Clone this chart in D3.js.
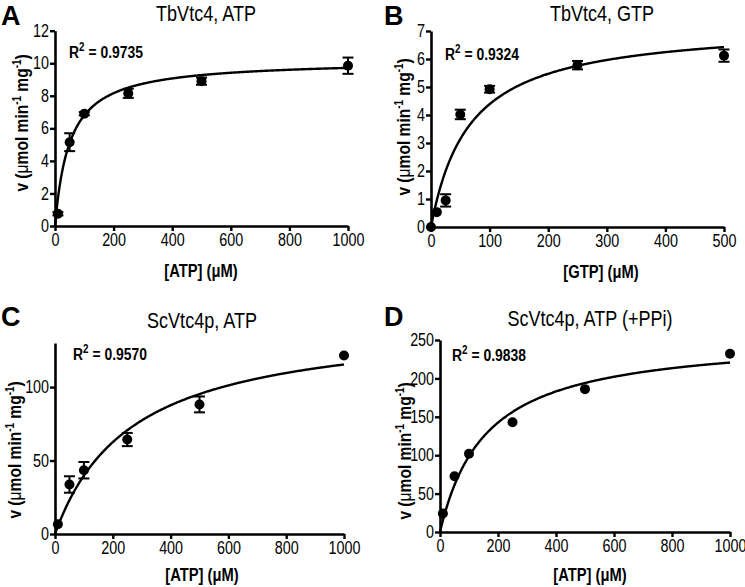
<!DOCTYPE html>
<html><head><meta charset="utf-8">
<script src="https://cdn.jsdelivr.net/npm/d3@7"></script>
<style>
body{margin:0;background:#fff}
text{font-family:"Liberation Sans Narrow","Arial Narrow","Liberation Sans",Arial,sans-serif;fill:#000}
</style></head>
<body><svg id="c" width="745" height="587"></svg>
<script>
// ---- data ----
const concA = [10, 50, 100, 250, 500, 1000];
const rateA = [0.75, 5.15, 6.9, 8.15, 8.9, 9.85];
const errA  = [0.1, 0.55, 0.1, 0.28, 0.22, 0.5];

const concB = [0, 10, 25, 50, 100, 250, 500];
const rateB = [0, 0.53, 0.95, 4.02, 4.92, 5.78, 6.12];
const errB  = [0, 0, 0.22, 0.17, 0.12, 0.15, 0.22];

const concC = [10, 50, 100, 250, 500, 1000];
const rateC = [6.6, 33.7, 43.4, 64.3, 88.2, 121.5];
const errC  = [0, 5.6, 5.6, 4.5, 5.4, 0];

const concD = [10, 50, 100, 250, 500, 1000];
const rateD = [24, 72.6, 102, 143, 186, 232];
const errD  = [0, 0, 0, 0, 0, 0];

// Michaelis-Menten fit parameters (Vmax, Km)
const fitVmax = [10.2, 7.27, 146.3, 255.7];
const fitKm   = [50, 65.7, 268, 159];

const letters  = ["A", "B", "C", "D"];
const titles   = ["TbVtc4, ATP", "TbVtc4, GTP", "ScVtc4p, ATP", "ScVtc4p, ATP (+PPi)"];
const r2Values = ["0.9735", "0.9324", "0.9570", "0.9838"];
const xLabels  = ["[ATP] (\u03BCM)", "[GTP] (\u03BCM)", "[ATP] (\u03BCM)", "[ATP] (\u03BCM)"];
const xTicksA = [0, 200, 400, 600, 800, 1000];
const xTicksB = [0, 100, 200, 300, 400, 500];
const yTicksA = [0, 2, 4, 6, 8, 10, 12];
const yTicksB = [0, 1, 2, 3, 4, 5, 6, 7];
const yTicksC = [0, 50, 100];
const yTicksD = [0, 50, 100, 150, 200, 250];
const xMax = [1000, 500, 1000, 1000];
const yMax = [12, 7, 130, 250];

// ---- layout ----
const NARROW = 0.82;
const boxes = [
  {l: 55, r: 348, t: 30.7, b: 226, title: [206, 21], letter: [1, 25], r2: [69, 58], xl: [201, 277], yl: [28, 123]},
  {l: 431, r: 724, t: 31, b: 227, title: [602, 21], letter: [384, 25], r2: [445, 60], xl: [601, 278], yl: [410, 127]},
  {l: 55, r: 344, t: 343, b: 534, title: [202, 328], letter: [1, 326], r2: [73, 360], xl: [202, 581], yl: [21, 450]},
  {l: 440, r: 730, t: 340, b: 532, title: [590, 326], letter: [384, 326], r2: [452, 361], xl: [590, 581], yl: [411, 451]}
];

const panels = [
  {x: concA, y: rateA, e: errA, xt: xTicksA, yt: yTicksA},
  {x: concB, y: rateB, e: errB, xt: xTicksB, yt: yTicksB},
  {x: concC, y: rateC, e: errC, xt: xTicksA, yt: yTicksC},
  {x: concD, y: rateD, e: errD, xt: xTicksA, yt: yTicksD}
];

const svg = d3.select("#c");

// condensed text helper (Arial-Narrow look)
function ntext(g, x, y, extra) {
  return g.append("text").attr("transform", `translate(${x},${y}) ${extra || ""} scale(${NARROW},1)`);
}

panels.forEach((p, i) => {
  const bx = boxes[i];
  const xs = d3.scaleLinear().domain([0, xMax[i]]).range([bx.l, bx.r]);
  const ys = d3.scaleLinear().domain([0, yMax[i]]).range([bx.b, bx.t]);
  const g = svg.append("g");
  const fmt = d3.format("d");

  // axes
  const xa = g.append("g").attr("transform", `translate(0,${bx.b})`)
    .call(d3.axisBottom(xs).tickValues(p.xt).tickFormat(fmt).tickSize(5).tickPadding(3).tickSizeOuter(0));
  const ya = g.append("g").attr("transform", `translate(${bx.l},0)`)
    .call(d3.axisLeft(ys).tickValues(p.yt).tickFormat(fmt).tickSize(5).tickPadding(1).tickSizeOuter(0));
  [xa, ya].forEach(a => {
    a.select(".domain").attr("stroke", "#000").attr("stroke-width", 2.6);
    a.selectAll(".tick line").attr("stroke", "#000").attr("stroke-width", 2.4);
    a.selectAll(".tick text").style("font-size", "17.5px").attr("fill", "#000");
  });
  xa.selectAll(".tick text").attr("transform", `scale(${NARROW},1)`);
  ya.selectAll(".tick text").attr("transform", `translate(-1,0) scale(${NARROW},1)`);

  // fitted curve
  const vm = fitVmax[i], km = fitKm[i];
  const curveX = d3.range(0, xMax[i] + 0.001, xMax[i] / 400);
  g.append("path")
    .attr("d", d3.line().x(d => xs(d)).y(d => ys(vm * d / (km + d)))(curveX))
    .attr("fill", "none").attr("stroke", "#000").attr("stroke-width", 2.4);

  // error bars
  p.x.forEach((xv, j) => {
    const ev = p.e[j];
    if (ev <= 0) return;
    const cx = xs(xv), y1 = ys(p.y[j] + ev), y2 = ys(p.y[j] - ev);
    g.append("line").attr("x1", cx).attr("x2", cx).attr("y1", y1).attr("y2", y2)
      .attr("stroke", "#000").attr("stroke-width", 2);
    [y1, y2].forEach(yy => g.append("line").attr("x1", cx - 5.5).attr("x2", cx + 5.5)
      .attr("y1", yy).attr("y2", yy).attr("stroke", "#000").attr("stroke-width", 2));
  });

  // points
  g.selectAll("circle.pt").data(p.x.map((xv, j) => [xv, p.y[j]])).enter()
    .append("circle").attr("cx", d => xs(d[0])).attr("cy", d => ys(d[1]))
    .attr("r", 5).attr("fill", "#000");

  // texts
  g.append("text").attr("x", bx.letter[0]).attr("y", bx.letter[1])
    .style("font-family", "'Liberation Sans',Arial,sans-serif")
    .style("font-weight", "bold").style("font-size", "27px").text(letters[i]);
  ntext(g, bx.title[0], bx.title[1])
    .attr("text-anchor", "middle").style("font-size", "22px").text(titles[i]);
  const r2 = ntext(g, bx.r2[0], bx.r2[1])
    .style("font-weight", "bold").style("font-size", "17px");
  r2.append("tspan").text("R");
  r2.append("tspan").attr("dy", -7).style("font-size", "12px").text("2");
  r2.append("tspan").attr("dy", 7).text(" = " + r2Values[i]);

  ntext(g, bx.xl[0], bx.xl[1])
    .attr("text-anchor", "middle").style("font-weight", "bold").style("font-size", "18px")
    .text(xLabels[i]);

  const yl = ntext(g, bx.yl[0], bx.yl[1], "rotate(-90)")
    .attr("text-anchor", "middle").style("font-weight", "bold").style("font-size", "19px");
  yl.append("tspan").text("v (");
  yl.append("tspan").style("font-weight", "normal").text("\u03BC");
  yl.append("tspan").text("mol min");
  yl.append("tspan").attr("dy", -7).style("font-size", "12px").text("-1");
  yl.append("tspan").attr("dy", 7).text(" mg");
  yl.append("tspan").attr("dy", -7).style("font-size", "12px").text("-1");
  yl.append("tspan").attr("dy", 7).text(")");
});
</script>
</body></html>
